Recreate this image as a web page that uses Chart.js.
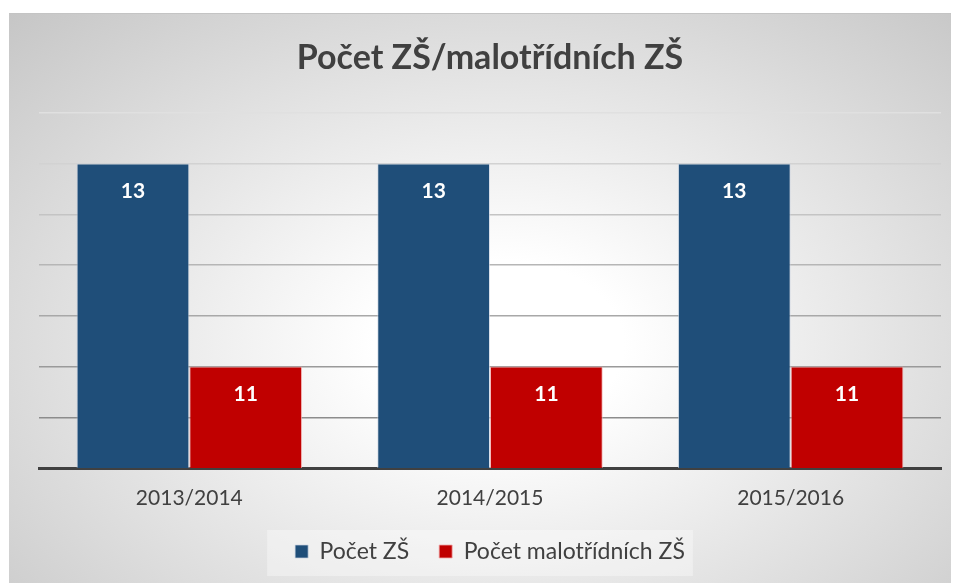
<!DOCTYPE html>
<html>
<head>
<meta charset="utf-8">
<script src="https://cdn.jsdelivr.net/npm/chart.js@4.4.1/dist/chart.umd.min.js"></script>
<style>
    html, body { margin: 0; padding: 0; background: #fff; }
    #frame {
        position: absolute; left: 9px; top: 13px; width: 942px; height: 570px;
        border-top: 1px solid #c4c4c4;
        background: radial-gradient(ellipse farthest-corner at 52% 58%, #ffffff 18%, #c6c6c6 100%);
    }
    #chart { display: block; }
</style>
</head>
<body>
<div id="frame"><canvas id="chart" width="942" height="570"></canvas></div>
<script>
// chart data
const categories = ['2013/2014', '2014/2015', '2015/2016'];
const pocetZS = [13, 13, 13];
const pocetMalotridnich = [11, 11, 11];
const seriesNames = ['Počet ZŠ', 'Počet malotřídních ZŠ'];

const fontFamily = 'Lato, "Open Sans", sans-serif';

// white value labels inside bars, near the top
const barLabels = {
    id: 'barLabels',
    afterDatasetsDraw(chart) {
        const ctx = chart.ctx;
        ctx.save();
        ctx.font = 'bold 21px ' + fontFamily;
        ctx.fillStyle = '#ffffff';
        ctx.textAlign = 'center';
        ctx.textBaseline = 'middle';
        chart.data.datasets.forEach((ds, i) => {
            chart.getDatasetMeta(i).data.forEach((bar, j) => {
                ctx.fillText(ds.data[j], bar.x, bar.y + 28);
            });
        });
        ctx.restore();
    }
};

// faint lighter box behind the legend
const legendBox = {
    id: 'legendBox',
    beforeDraw(chart) {
        const boxes = chart.legend.legendHitBoxes;
        if (!boxes || !boxes.length) return;
        const left = Math.min(...boxes.map(b => b.left)) - 28;
        const right = Math.max(...boxes.map(b => b.left + b.width)) + 8;
        const ctx = chart.ctx;
        ctx.save();
        ctx.fillStyle = 'rgba(255,255,255,0.35)';
        ctx.fillRect(left, boxes[0].top - 10, right - left, 46);
        ctx.restore();
    }
};

function gridColor(ctx) {
    const v = ctx.tick ? ctx.tick.value : 10;
    const t = Math.min(1, Math.max(0, (v - 10.5) / 3));
    const c = Math.round(140 + t * 84);
    return 'rgb(' + c + ',' + c + ',' + c + ')';
}

new Chart(document.getElementById('chart'), {
    type: 'bar',
    data: {
        labels: categories,
        datasets: [{
            label: seriesNames[0],
            data: pocetZS,
            backgroundColor: '#1f4e79',
            borderColor: 'rgba(200,210,225,0.7)',
            borderWidth: 1
        }, {
            label: seriesNames[1],
            data: pocetMalotridnich,
            backgroundColor: '#c00000',
            borderColor: 'rgba(240,170,170,0.8)',
            borderWidth: 1
        }]
    },
    options: {
        responsive: false,
        animation: false,
        layout: { padding: { left: 30, right: 10, bottom: 11 } },
        datasets: {
            bar: { categoryPercentage: 0.75, barPercentage: 1.0 }
        },
        scales: {
            x: {
                grid: { display: false, drawTicks: false },
                border: { display: true, color: '#404040', width: 3 },
                ticks: {
                    color: '#404040',
                    padding: 18,
                    font: { family: fontFamily, size: 21 }
                },
                afterFit(scale) { scale.height = 42; }
            },
            y: {
                min: 10,
                max: 13.5,
                ticks: { display: false, stepSize: 0.5 },
                border: { display: false },
                grid: { color: gridColor, lineWidth: 1.5, drawTicks: false },
                afterFit(scale) { scale.width = 0; }
            }
        },
        plugins: {
            title: {
                display: true,
                text: 'Počet ZŠ/malotřídních ZŠ',
                color: '#404040',
                font: { family: fontFamily, size: 34, weight: 'bold' },
                padding: { top: 24, bottom: 34 }
            },
            legend: {
                position: 'bottom',
                labels: {
                    color: '#404040',
                    boxWidth: 13,
                    boxHeight: 13,
                    padding: 30,
                    font: { family: fontFamily, size: 23 }
                }
            },
            tooltip: { enabled: false }
        }
    },
    plugins: [legendBox, barLabels]
});
</script>
</body>
</html>
